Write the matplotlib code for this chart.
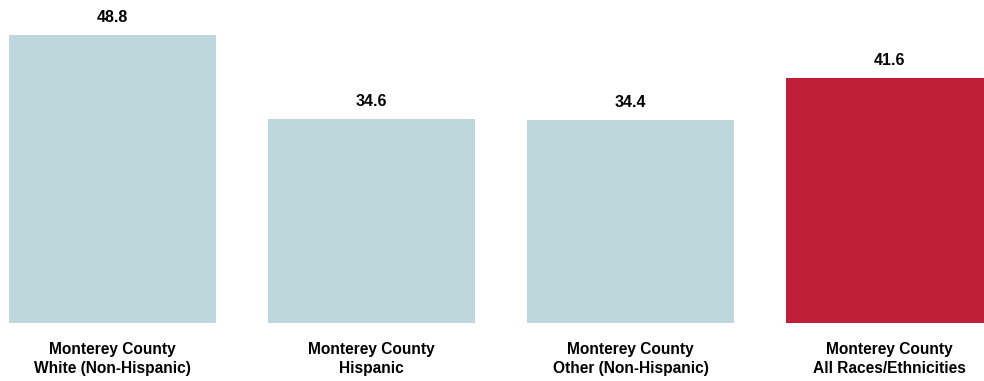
import matplotlib
matplotlib.use("Agg")
import matplotlib.pyplot as plt
from matplotlib import font_manager

categories = ["Monterey County\nWhite (Non-Hispanic)", "Monterey County\nHispanic",
              "Monterey County\nOther (Non-Hispanic)", "Monterey County\nAll Races/Ethnicities"]
values = [48.8, 34.6, 34.4, 41.6]
colors = ["#BDD7DD", "#BDD7DD", "#BDD7DD", "#C01F3A"]

names = {f.name for f in font_manager.fontManager.ttflist}
fam = "Liberation Sans Narrow" if "Liberation Sans Narrow" in names else "Liberation Sans"

fig = plt.figure(figsize=(9.84, 3.81), dpi=100)
ax = fig.add_axes([0, 1 - 323/381, 1, 323/381])
x = list(range(len(values)))
ax.bar(x, values, width=0.8, color=colors)
ax.set_xlim(-0.434, 3.365)
ax.set_ylim(0, 323/5.9)
for xi, v in zip(x, values):
    ax.annotate(f"{v:.1f}", (xi, v), xytext=(0, 7), textcoords="offset points",
                ha="center", va="bottom", fontsize=11.5, fontweight="bold", family=fam)
ax.set_xticks(x)
ax.set_xticklabels(categories, fontsize=11.2, fontweight="bold", family=fam, linespacing=1.3)
ax.tick_params(axis="x", length=0, pad=14)
ax.set_yticks([])
for s in ax.spines.values():
    s.set_visible(False)
fig.savefig("out.png", dpi=100)
